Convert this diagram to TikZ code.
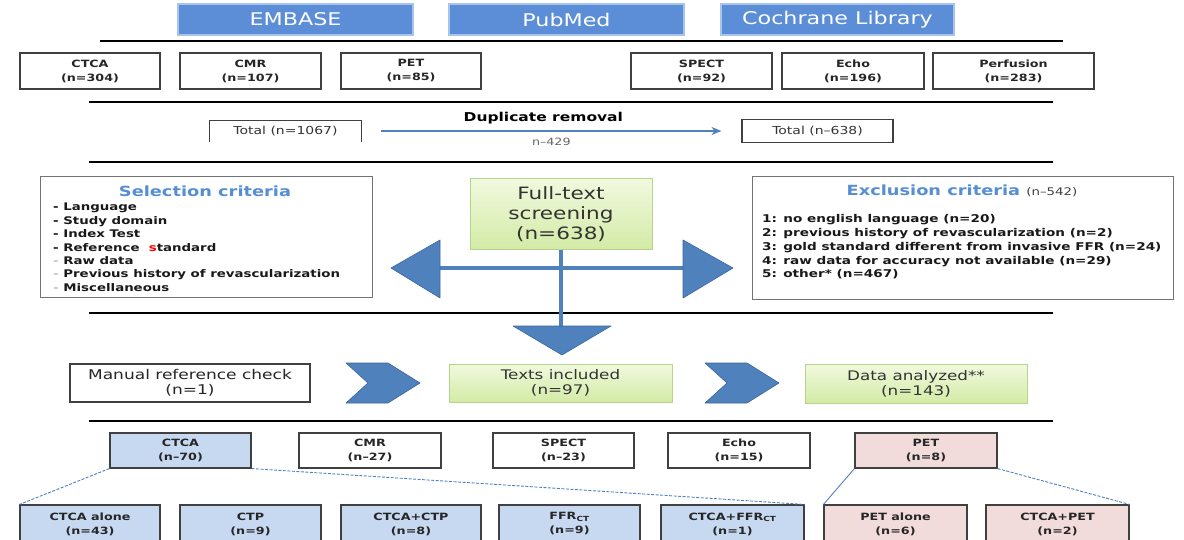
\documentclass[tikz,border=0pt]{standalone}
\usepackage{fontspec}
\setmainfont{DejaVu Sans}[FakeStretch=1.27]
\usetikzlibrary{arrows.meta}

\definecolor{dbfill}{HTML}{5B8ED6}
\definecolor{dbedge}{HTML}{A9C4EB}
\definecolor{titleblue}{HTML}{558ED5}
\definecolor{flowblue}{HTML}{4F81BD}
\definecolor{flowedge}{HTML}{3A669C}
\definecolor{boxedge}{HTML}{404040}
\definecolor{paleblue}{HTML}{C6D9F1}
\definecolor{palepink}{HTML}{F2DCDB}
\definecolor{greentop}{HTML}{F1F9DE}
\definecolor{greenbot}{HTML}{D3EBA6}
\definecolor{greenedge}{HTML}{B5D58C}

\begin{document}
\begin{tikzpicture}[x=1pt,y=-1pt,
    rule/.style={line width=2.8pt,black},
    dbbox/.style={fill=dbfill,draw=dbedge,line width=2pt,text=white,
      inner sep=0pt,font=\fontsize{17.5}{20}\selectfont},
    countbox/.style={draw=boxedge,line width=1.1pt,fill=white,align=center,
      inner sep=0pt,text=black!85,font=\bfseries\fontsize{10}{14}\selectfont},
    greenbox/.style={draw=greenedge,line width=0.8pt,top color=greentop,
      bottom color=greenbot,align=center,inner sep=0pt,text=black!80},
    critbox/.style={draw=black!55,line width=1pt,fill=white,inner sep=0pt},
    item/.style={anchor=base west,inner sep=0pt,text=black!90,
      font=\bfseries\fontsize{10.5}{13}\selectfont},
    flow/.style={draw=flowblue,line width=3.2pt},
    flowshape/.style={fill=flowblue,draw=flowedge,line width=0.6pt,line join=round},
    duparrow/.style={draw=flowblue,line width=2pt,-{Stealth[length=10pt,width=8pt]},
      shorten <=20pt,shorten >=20pt},
    treeline/.style={draw=flowblue,line width=0.9pt,dash pattern=on 3pt off 1.5pt}
  ]
  \useasboundingbox (0,0) rectangle (1184,540);
  \clip (0,0) rectangle (1184,540);

  % databases
  \node[dbbox,minimum width=235pt,minimum height=31pt] (emb) at (295.5,19.5) {EMBASE};
  \node[dbbox,minimum width=235pt,minimum height=31pt] (pub) at (566.5,19.5) {PubMed};
  \node[dbbox,minimum width=233pt,minimum height=31pt] (coch) at (837.5,19.5) {Cochrane Library};

  % separators
  \foreach \y/\a/\b in {41/100/1063, 102/89/1053, 162/89/1053, 313/89/1053, 421/89/1053}
    \draw[rule] (\a,\y) -- (\b,\y);

  % search hits
  \node[countbox,minimum width=140pt,minimum height=36pt] (ctca) at (90,71) {CTCA\\(n=304)};
  \node[countbox,minimum width=141pt,minimum height=36pt] (cmr) at (250.5,71) {CMR\\(n=107)};
  \node[countbox,minimum width=140pt,minimum height=36pt] (pet) at (411,71) {PET\\(n=85)};
  \node[countbox,minimum width=141pt,minimum height=36pt] (spect) at (701.5,71) {SPECT\\(n=92)};
  \node[countbox,minimum width=142pt,minimum height=36pt] (echo) at (853,71) {Echo\\(n=196)};
  \node[countbox,minimum width=161pt,minimum height=36pt] (perf) at (1013.5,71) {Perfusion\\(n=283)};

  % duplicates
  \node[inner sep=0pt,minimum width=151pt,minimum height=21pt,text=black!80,
    font=\fontsize{11}{13}\selectfont] (tot1) at (285.5,131) {Total (n=1067)};
  \draw[boxedge,line width=1pt] (tot1.south west) |- (tot1.north east) -- (tot1.south east);
  \node[draw=boxedge,line width=1.1pt,inner sep=0pt,minimum width=151pt,minimum height=23pt,
    text=black!80,font=\fontsize{11}{13}\selectfont] (tot2) at (817.5,131) {Total (n--638)};
  \draw[duparrow] (tot1) -- (tot2)
    node[midway,above=3pt,xshift=-8pt,text=black,font=\bfseries\fontsize{12.2}{14}\selectfont] (dup) {Duplicate removal}
    node[midway,below=3pt,text=black!60,font=\fontsize{10}{12}\selectfont] (dupn) {n--429};

  % screening
  \node[critbox,minimum width=332pt,minimum height=121pt] (sel) at (206,237.5) {};
  \node[text=titleblue,inner sep=0pt,font=\bfseries\fontsize{14}{16}\selectfont] (selT) at (205,191) {Selection criteria};
  \foreach \dc/\txt [count=\i] in {black/Language, black/Study domain, black/Index Test,
      black/{Reference \ \textcolor{red}{s}tandard}, black!25/Raw data,
      black!25/Previous history of revascularization, black!25/Miscellaneous}
    \node[item] (sel\i) at (53,197.6+13.4*\i) {\textcolor{\dc}{-} \txt};

  \node[greenbox,minimum width=182pt,minimum height=71pt,
    font=\fontsize{17}{20}\selectfont] (ft) at (561,214) {Full-text\\screening\\(n=638)};

  \node[critbox,minimum width=421pt,minimum height=123pt] (exc) at (962.5,238.5) {};
  \node[inner sep=0pt,font=\bfseries\fontsize{14}{16}\selectfont] (excT) at (962,191)
    {\textcolor{titleblue}{Exclusion criteria} {\mdseries\color{black!75}\fontsize{10.5}{12}\selectfont(n--542)}};
  \foreach \txt [count=\i] in {1: no english language (n=20),
      2: previous history of revascularization (n=2),
      3: gold standard different from invasive FFR (n=24),
      4: raw data for accuracy not available (n=29),
      5: other* (n=467)}
    \node[item,font=\bfseries\fontsize{10.7}{13}\selectfont] (exc\i) at (762,209.25+13.75*\i) {\txt};

  \coordinate (lb) at (440,268);
  \coordinate (rb) at (683,268);
  \coordinate (dt) at (562,326);
  \draw[flow] (lb) -- (rb);
  \draw[flow] (ft.south) -- (ft.south |- dt);
  \draw[flowshape] (391,268) -- (lb |- 0,240) -- (lb |- 0,298) -- cycle;
  \draw[flowshape] (733,268) -- (rb |- 0,240) -- (rb |- 0,298) -- cycle;
  \draw[flowshape] (513,326) -- (611,326) -- (562,355) -- cycle;

  % inclusion
  \node[countbox,minimum width=240pt,minimum height=38pt,
    font=\fontsize{13.4}{15}\selectfont] (man) at (190,383) {Manual reference check\\(n=1)};
  \node[greenbox,minimum width=223pt,minimum height=38pt,
    font=\fontsize{13.2}{15}\selectfont] (inc) at (560.5,383) {Texts included\\(n=97)};
  \node[greenbox,minimum width=222pt,minimum height=39pt,
    font=\fontsize{13.2}{15}\selectfont] (ana) at (916,383.5) {Data analyzed**\\(n=143)};
  \foreach \cx in {346,705}
    \draw[flowshape] (\cx,363) -- ++(42,0) -- ++(32,20) -- ++(-32,20) -- ++(-42,0) -- ++(22,-20) -- cycle;

  % analyzed by modality
  \node[countbox,fill=paleblue,minimum width=141pt,minimum height=35pt] (actca) at (180.5,450.5) {CTCA\\(n--70)};
  \node[countbox,minimum width=142pt,minimum height=35pt] (acmr) at (370,450.5) {CMR\\(n--27)};
  \node[countbox,minimum width=141pt,minimum height=35pt] (aspect) at (563.5,450.5) {SPECT\\(n--23)};
  \node[countbox,minimum width=142pt,minimum height=35pt] (aecho) at (739,450.5) {Echo\\(n=15)};
  \node[countbox,fill=palepink,minimum width=142pt,minimum height=35pt] (apet) at (926,450.5) {PET\\(n=8)};

  \node[countbox,fill=paleblue,minimum width=140pt,minimum height=38pt] (ctcaalone) at (90,524) {CTCA alone\\(n=43)};
  \node[countbox,fill=paleblue,minimum width=141pt,minimum height=38pt] (ctp) at (250.5,524) {CTP\\(n=9)};
  \node[countbox,fill=paleblue,minimum width=140pt,minimum height=38pt] (ctcactp) at (411,524) {CTCA+CTP\\(n=8)};
  \node[countbox,fill=paleblue,minimum width=141pt,minimum height=38pt] (ffr) at (569.5,524) {FFR\textsubscript{CT}\\(n=9)};
  \node[countbox,fill=paleblue,minimum width=143pt,minimum height=38pt] (ctcaffr) at (732.5,524) {CTCA+FFR\textsubscript{CT}\\(n=1)};
  \node[countbox,fill=palepink,minimum width=143pt,minimum height=38pt] (petalone) at (895.5,524) {PET alone\\(n=6)};
  \node[countbox,fill=palepink,minimum width=143pt,minimum height=38pt] (ctcapet) at (1057.5,524) {CTCA+PET\\(n=2)};

  \draw[treeline] (actca.south west) -- (ctcaalone.north west);
  \draw[treeline] (actca.south east) -- (ctcaffr.north east);
  \draw[treeline,solid] (apet.south west) -- (petalone.north west);
  \draw[treeline] (apet.south east) -- (ctcapet.north east);
\end{tikzpicture}
\end{document}
